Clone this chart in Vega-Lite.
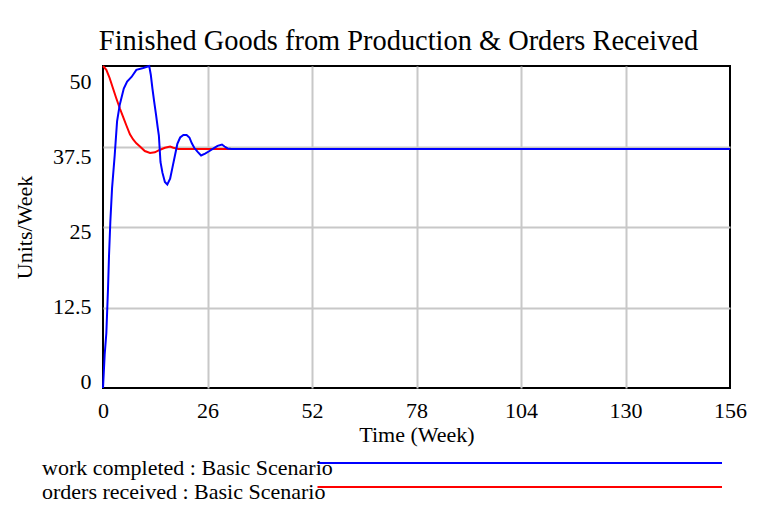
{
  "$schema": "https://vega.github.io/schema/vega-lite/v6.json",
  "width": 627,
  "height": 322,
  "autosize": {"type": "none"},
  "padding": {"left": 103, "top": 66, "right": 28, "bottom": 123},
  "background": "white",
  "title": {
    "text": "Finished Goods from Production & Orders Received",
    "font": "Liberation Serif",
    "fontSize": 28.4,
    "fontWeight": "normal",
    "color": "black",
    "anchor": "middle",
    "frame": "group",
    "baseline": "alphabetic",
    "offset": -16,
    "dx": -18
  },
  "config": {
    "view": {"stroke": "black", "strokeWidth": 2},
    "axis": {
      "labelFont": "Liberation Serif",
      "labelFontSize": 22,
      "labelColor": "black",
      "titleFont": "Liberation Serif",
      "titleFontSize": 22,
      "titleFontWeight": "normal",
      "titleColor": "black",
      "ticks": false,
      "domain": false,
      "gridWidth": 2
    }
  },
  "data": {
    "values": [
      {"week": 0, "value": 50.0, "series": "orders received : Basic Scenario"},
      {"week": 0.83, "value": 49.4, "series": "orders received : Basic Scenario"},
      {"week": 1.67, "value": 48.1, "series": "orders received : Basic Scenario"},
      {"week": 2.5, "value": 46.5, "series": "orders received : Basic Scenario"},
      {"week": 3.3, "value": 45.0, "series": "orders received : Basic Scenario"},
      {"week": 4.2, "value": 43.4, "series": "orders received : Basic Scenario"},
      {"week": 5.0, "value": 42.1, "series": "orders received : Basic Scenario"},
      {"week": 5.8, "value": 40.8, "series": "orders received : Basic Scenario"},
      {"week": 6.7, "value": 39.4, "series": "orders received : Basic Scenario"},
      {"week": 7.5, "value": 38.6, "series": "orders received : Basic Scenario"},
      {"week": 8.3, "value": 38.0, "series": "orders received : Basic Scenario"},
      {"week": 9.2, "value": 37.5, "series": "orders received : Basic Scenario"},
      {"week": 10.4, "value": 36.8, "series": "orders received : Basic Scenario"},
      {"week": 11.7, "value": 36.5, "series": "orders received : Basic Scenario"},
      {"week": 12.9, "value": 36.6, "series": "orders received : Basic Scenario"},
      {"week": 14.2, "value": 37.0, "series": "orders received : Basic Scenario"},
      {"week": 15.4, "value": 37.3, "series": "orders received : Basic Scenario"},
      {"week": 16.7, "value": 37.5, "series": "orders received : Basic Scenario"},
      {"week": 17.5, "value": 37.3, "series": "orders received : Basic Scenario"},
      {"week": 18.75, "value": 37.1, "series": "orders received : Basic Scenario"},
      {"week": 156, "value": 37.1, "series": "orders received : Basic Scenario"},
      {"week": 0, "value": 0, "series": "work completed : Basic Scenario"},
      {"week": 0.42, "value": 5.2, "series": "work completed : Basic Scenario"},
      {"week": 0.83, "value": 8.5, "series": "work completed : Basic Scenario"},
      {"week": 1.25, "value": 15.5, "series": "work completed : Basic Scenario"},
      {"week": 1.5, "value": 20.6, "series": "work completed : Basic Scenario"},
      {"week": 1.83, "value": 25.9, "series": "work completed : Basic Scenario"},
      {"week": 2.25, "value": 31.0, "series": "work completed : Basic Scenario"},
      {"week": 2.92, "value": 36.2, "series": "work completed : Basic Scenario"},
      {"week": 3.5, "value": 41.4, "series": "work completed : Basic Scenario"},
      {"week": 4.17, "value": 44.0, "series": "work completed : Basic Scenario"},
      {"week": 5.17, "value": 46.5, "series": "work completed : Basic Scenario"},
      {"week": 6.0, "value": 47.6, "series": "work completed : Basic Scenario"},
      {"week": 7.1, "value": 48.3, "series": "work completed : Basic Scenario"},
      {"week": 8.3, "value": 49.4, "series": "work completed : Basic Scenario"},
      {"week": 10.0, "value": 49.7, "series": "work completed : Basic Scenario"},
      {"week": 11.5, "value": 50.0, "series": "work completed : Basic Scenario"},
      {"week": 11.9, "value": 48.6, "series": "work completed : Basic Scenario"},
      {"week": 12.3, "value": 46.5, "series": "work completed : Basic Scenario"},
      {"week": 12.75, "value": 44.4, "series": "work completed : Basic Scenario"},
      {"week": 13.2, "value": 42.4, "series": "work completed : Basic Scenario"},
      {"week": 13.6, "value": 40.5, "series": "work completed : Basic Scenario"},
      {"week": 13.9, "value": 39.2, "series": "work completed : Basic Scenario"},
      {"week": 14.3, "value": 35.1, "series": "work completed : Basic Scenario"},
      {"week": 14.8, "value": 33.4, "series": "work completed : Basic Scenario"},
      {"week": 15.4, "value": 32.0, "series": "work completed : Basic Scenario"},
      {"week": 16.0, "value": 31.6, "series": "work completed : Basic Scenario"},
      {"week": 16.7, "value": 32.5, "series": "work completed : Basic Scenario"},
      {"week": 17.3, "value": 34.3, "series": "work completed : Basic Scenario"},
      {"week": 17.9, "value": 36.1, "series": "work completed : Basic Scenario"},
      {"week": 18.5, "value": 37.9, "series": "work completed : Basic Scenario"},
      {"week": 19.2, "value": 38.9, "series": "work completed : Basic Scenario"},
      {"week": 20.0, "value": 39.3, "series": "work completed : Basic Scenario"},
      {"week": 20.8, "value": 39.3, "series": "work completed : Basic Scenario"},
      {"week": 21.5, "value": 38.9, "series": "work completed : Basic Scenario"},
      {"week": 22.1, "value": 38.0, "series": "work completed : Basic Scenario"},
      {"week": 22.7, "value": 37.3, "series": "work completed : Basic Scenario"},
      {"week": 23.5, "value": 36.7, "series": "work completed : Basic Scenario"},
      {"week": 24.4, "value": 36.1, "series": "work completed : Basic Scenario"},
      {"week": 25.4, "value": 36.4, "series": "work completed : Basic Scenario"},
      {"week": 26.5, "value": 36.8, "series": "work completed : Basic Scenario"},
      {"week": 27.5, "value": 37.2, "series": "work completed : Basic Scenario"},
      {"week": 28.5, "value": 37.6, "series": "work completed : Basic Scenario"},
      {"week": 29.6, "value": 37.8, "series": "work completed : Basic Scenario"},
      {"week": 30.25, "value": 37.5, "series": "work completed : Basic Scenario"},
      {"week": 31.0, "value": 37.2, "series": "work completed : Basic Scenario"},
      {"week": 32.0, "value": 37.1, "series": "work completed : Basic Scenario"},
      {"week": 156, "value": 37.1, "series": "work completed : Basic Scenario"}
    ]
  },
  "mark": {"type": "line", "strokeWidth": 2, "interpolate": "linear"},
  "encoding": {
    "x": {
      "field": "week",
      "type": "quantitative",
      "scale": {"domain": [0, 156], "nice": false},
      "axis": {
        "values": [0, 26, 52, 78, 104, 130, 156],
        "title": "Time (Week)",
        "labelPadding": 12,
        "titlePadding": 3,
        "labelFlush": false,
        "labelOverlap": false,
        "gridColor": {"condition": {"test": "datum.value === 0 || datum.value === 156", "value": "transparent"}, "value": "#c8c8c8"}
      }
    },
    "y": {
      "field": "value",
      "type": "quantitative",
      "scale": {"domain": [0, 50], "nice": false, "zero": false},
      "axis": {
        "values": [0, 12.5, 25, 37.5, 50],
        "labelExpr": "'' + datum.value",
        "title": "Units/Week",
        "labelPadding": 12,
        "titlePadding": 16,
        "labelFlush": false,
        "labelOverlap": false,
        "labelOffset": {"expr": "15.7 - 0.446 * (50 - datum.value)"},
        "gridColor": {"condition": {"test": "datum.value === 0 || datum.value === 50", "value": "transparent"}, "value": "#c8c8c8"}
      }
    },
    "color": {
      "field": "series",
      "type": "nominal",
      "scale": {
        "domain": ["work completed : Basic Scenario", "orders received : Basic Scenario"],
        "range": ["#0000ff", "#ff0000"]
      },
      "legend": {
        "orient": "none",
        "legendX": 214,
        "legendY": 389.1,
        "direction": "vertical",
        "title": null,
        "symbolType": "M-1.0417,-0.4167L32.667,-0.4167",
        "symbolSize": 576,
        "symbolStrokeWidth": 2,
        "labelFont": "Liberation Serif",
        "labelFontSize": 22,
        "labelColor": "black",
        "labelOffset": -301,
        "labelAlign": "left",
        "labelBaseline": "middle",
        "labelLimit": 0,
        "rowPadding": 0,
        "padding": 0
      }
    }
  }
}
